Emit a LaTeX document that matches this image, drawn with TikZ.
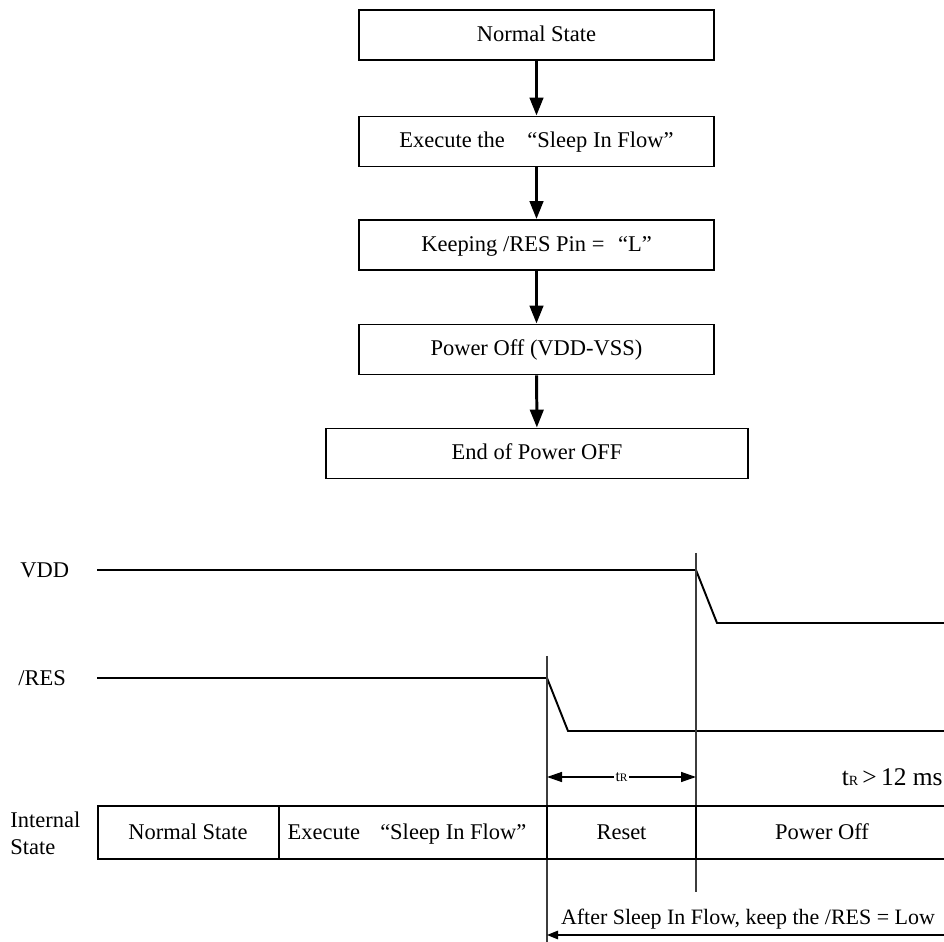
\documentclass[tikz,border=0pt]{standalone}
\usepackage{fontspec}
\setmainfont{Liberation Serif}
\usetikzlibrary{arrows.meta}
\definecolor{tdgray}{RGB}{60,60,60}
\newcommand{\txt}{\fontsize{12.8}{15.4}\selectfont}
\tikzset{
  flowbox/.style={draw, line width=1.1pt, minimum width=#1, minimum height=1cm,
                  inner sep=0pt, font=\txt, text height=0.8em, text depth=0.06em},
  flowbox/.default=7.1cm,
  flowarrow/.style={-{Triangle[length=0.36cm,width=0.27cm]}, line width=1.7pt},
  sig/.style={line width=1.1pt},
  marker/.style={tdgray, line width=0.8pt},
  cell/.style={font=\txt, inner sep=0pt, text height=0.8em, text depth=0.06em},
  lbl/.style={font=\txt, inner sep=0pt, anchor=west},
  dimarrow/.style={{Triangle[length=0.3cm,width=0.2cm]}-{Triangle[length=0.3cm,width=0.2cm]},
                   line width=0.8pt},
  backarrow/.style={{Triangle[length=0.22cm,width=0.17cm]}-, line width=0.8pt},
}

\begin{document}
\begin{tikzpicture}[x=0.02cm, y=-0.02cm]
\useasboundingbox (0,0) rectangle (944,942);

% --- Flow chart ---
\node[flowbox] (normal) at (536.5,35) {Normal State};
\node[flowbox] (sleepin) at (536.5,141.5) {Execute the\hspace{1em}“Sleep In Flow”};
\node[flowbox] (keepres) at (536.5,245) {Keeping /RES Pin =\hspace{0.6em}“L”};
\node[flowbox] (poweroff) at (536.5,349.5) {Power Off (VDD-VSS)};
\node[flowbox=8.44cm] (endoff) at (537,453.5) {End of Power OFF};

\draw[flowarrow] (normal) -- (sleepin);
\draw[flowarrow] (sleepin) -- (keepres);
\draw[flowarrow] (keepres) -- (poweroff);
\draw[flowarrow] (poweroff) -- (endoff);

% --- Timing: signals ---
\node[lbl] (vdd) at (20,570) {VDD};
\node[lbl] (res) at (18,678) {/RES};
\draw[sig] (97,570) -- (696,570) -- (717,623) -- (944,623);
\draw[sig] (97,678) -- (547,678) -- (568,731) -- (944,731);

% Edge markers
\coordinate (resfall) at (547,656);
\coordinate (vddfall) at (696,553);
\draw[marker] (resfall) -- (547,942);
\draw[marker] (vddfall) -- (696,892);

% tR
\coordinate (trl) at (547,777);
\coordinate (trr) at (696,777);
\draw[dimarrow] (trl) -- node[fill=white, inner sep=1pt, font=\fontsize{9}{10}\selectfont]
      {t{\fontsize{6.5}{7}\selectfont R}} (trr);
\node[font=\fontsize{14.5}{17}\selectfont, anchor=east, inner sep=0pt] (trmin) at (943,777)
      {t{\footnotesize R}\,>\,12 ms};

% --- Internal state bar ---
\node[lbl, align=left] (istate) at (10,833) {Internal\\State};
\draw[sig] (944,806) -- (98,806) -- (98,859) -- (944,859);
\draw[sig] (279,806) -- (279,859);
\draw[sig] (547,806) -- (547,859);
\draw[sig] (696,806) -- (696,859);
\node[cell] (snormal) at (188,833) {Normal State};
\node[cell] (sexec) at (407,833) {Execute\hspace{0.9em}“Sleep In Flow”};
\node[cell] (sreset) at (621.5,833) {Reset};
\node[cell] (spoff) at (822,833) {Power Off};

% Keep /RES low
\coordinate (keepend) at (944,935);
\coordinate (keepstart) at (547,935);
\draw[backarrow] (keepstart) -- (keepend);
\node[font=\fontsize{12.5}{15}\selectfont, inner sep=0pt] (keeplbl) at (748,919)
      {After Sleep In Flow, keep the /RES = Low};

\end{tikzpicture}
\end{document}
